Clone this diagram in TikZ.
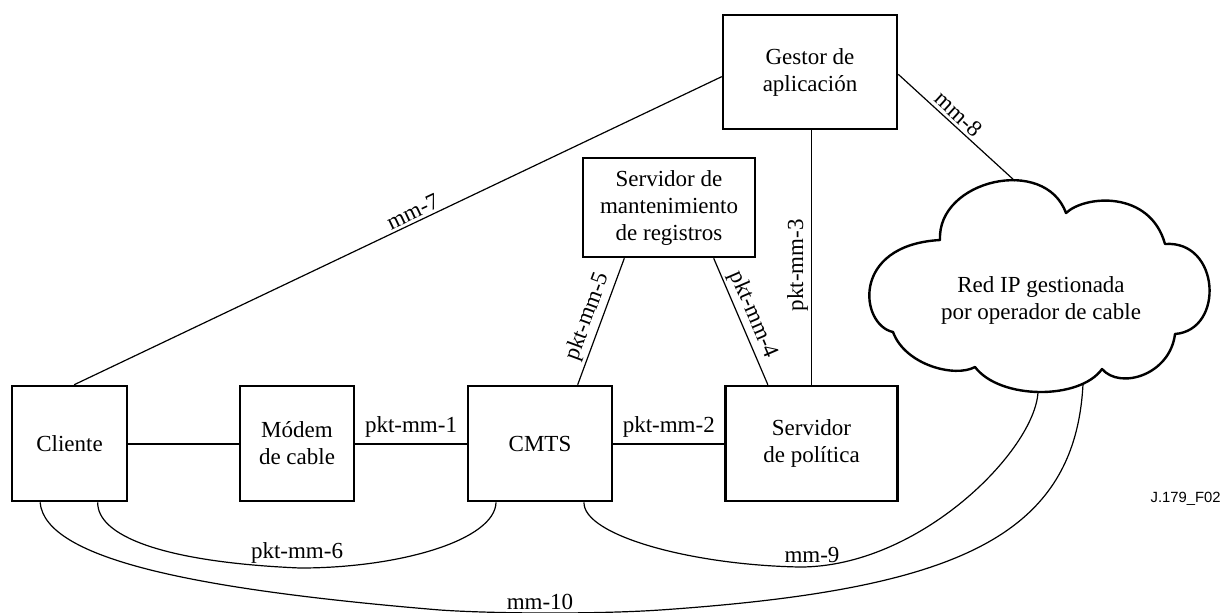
\documentclass[tikz,border=0pt]{standalone}
\usepackage{fontspec}
\setmainfont{Liberation Serif}
\newfontfamily\labelsans{Liberation Sans}
\usetikzlibrary{calc}
\begin{document}
\begin{tikzpicture}[x=0.5pt,y=-0.5pt,
  box/.style={draw, line width=1.3pt, inner sep=0pt, align=center, font=\fontsize{11.5}{13.5}\selectfont},
  lbl/.style={font=\fontsize{11.5}{13.5}\selectfont, inner sep=1.5pt},
  thinlink/.style={line width=0.6pt},
  thicklink/.style={line width=1pt},
  cloudline/.style={line width=1.2pt, line join=round}]
\fill[white] (0,0) rectangle (1224,612);
\useasboundingbox (0,0) rectangle (1224,612);

% boxes
\node[box, minimum width=57.5pt, minimum height=57.5pt] (cli) at (69.5,443.5) {Cliente};
\node[box, minimum width=57pt, minimum height=57.5pt] (mod) at (297,443.5) {Módem\\de cable};
\node[box, minimum width=72pt, minimum height=57.5pt] (cmts) at (540,443.5) {CMTS};
\node[box, minimum width=86pt, minimum height=57.5pt] (pol) at (811.5,443.5) {Servidor\\de política};
\node[box, minimum width=87pt, minimum height=57pt] (gest) at (810,72) {Gestor de\\aplicación};
\node[box, minimum width=86pt, minimum height=49.5pt] (mant) at (669,207.5) {Servidor de\\mantenimiento\\de registros};

% cloud
\draw[cloudline] (940,240) .. controls (937,180) and (1045,155) .. (1066,213)
  .. controls (1085,195) and (1150,190) .. (1165,244)
  .. controls (1220,240) and (1225,330) .. (1175,334)
  .. controls (1170,375) and (1120,390) .. (1102,369)
  .. controls (1080,400) and (1000,400) .. (975,367)
  .. controls (955,378) and (905,365) .. (893,332)
  .. controls (860,325) and (850,245) .. (940,240) -- cycle;
\node[lbl, align=center] (red) at (1041,300) {Red IP gestionada\\por operador de cable};
\coordinate (cldtop) at (1015,181);
\coordinate (cldb1) at (1038,392);
\coordinate (cldb2) at (1083,384);

% straight connectors
\draw[thicklink] (cli) -- (mod);
\draw[thicklink] (mod) -- node[lbl, above, inner sep=2.5pt] (l1) {pkt-mm-1} (cmts);
\draw[thicklink] (cmts) -- node[lbl, above, inner sep=2.5pt] (l2) {pkt-mm-2} (pol);
\draw[thinlink] ($(cli.north west)!0.54!(cli.north east)$) -- node[lbl, sloped, above, pos=0.53] (l7) {mm-7} ($(gest.north west)!0.54!(gest.south west)$);
\draw[thinlink] ($(gest.north east)!0.52!(gest.south east)$) -- node[lbl, sloped, above, pos=0.45] (l8) {mm-8} (cldtop);
\draw[thinlink] (pol.north) -- node[lbl, sloped, above, pos=0.47] (l3) {pkt-mm-3} (pol.north |- gest.south);
\draw[thinlink] ($(cmts.north west)!0.757!(cmts.north east)$) -- node[lbl, sloped, above, pos=0.5] (l5) {pkt-mm-5} ($(mant.south west)!0.244!(mant.south east)$);
\draw[thinlink] ($(mant.south west)!0.756!(mant.south east)$) -- node[lbl, sloped, above, pos=0.49] (l4) {pkt-mm-4} ($(pol.north west)!0.25!(pol.north east)$);

% curved connectors
\draw[thinlink] ($(cli.south west)!0.74!(cli.south east)$) .. controls (97,535) and (160,562) .. (300,568)
  .. controls (400,568) and (495,540) .. ($(cmts.south west)!0.2!(cmts.south east)$);
\node[lbl, anchor=base] (l6) at (297,558) {pkt-mm-6};
\draw[thinlink] ($(cmts.south west)!0.8!(cmts.south east)$) .. controls (583,535) and (690,565) .. (800,567)
  .. controls (920,567) and (1035,450) .. (cldb1);
\node[lbl, anchor=base] (l9) at (812,562) {mm-9};
\draw[thinlink] ($(cli.south west)!0.25!(cli.south east)$) .. controls (45,560) and (200,590) .. (440,610)
  .. controls (500,614) and (600,614) .. (660,610)
  .. controls (950,590) and (1075,540) .. (cldb2);
\node[lbl, anchor=base] (l10) at (540,609) {mm-10};

\node[font=\labelsans\fontsize{7.4}{9}\selectfont, anchor=base east, inner sep=0pt] (fig) at (1221,502) {J.179\_F02};
\end{tikzpicture}
\end{document}
